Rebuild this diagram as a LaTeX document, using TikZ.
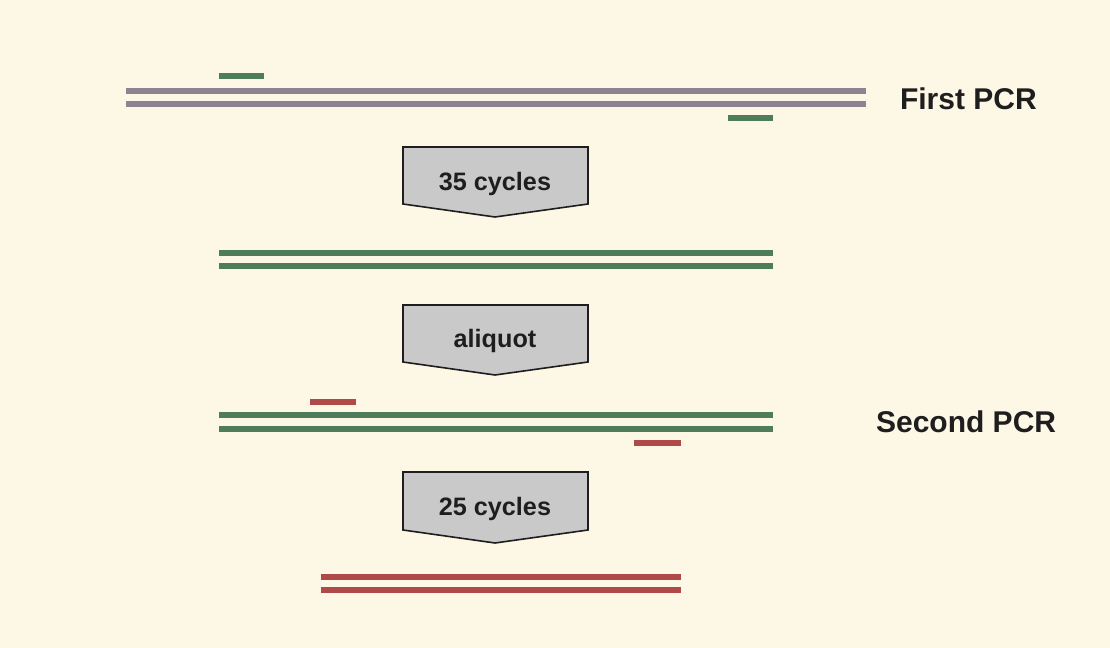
\documentclass[tikz,border=0pt]{standalone}
\usepackage{fontspec}
\setmainfont{Liberation Sans}
\definecolor{paper}{HTML}{FDF7E6}
\definecolor{template}{HTML}{8C8490}
\definecolor{outer}{HTML}{4F7D5B}
\definecolor{inner}{HTML}{B04A48}
\definecolor{boxfill}{HTML}{C9C9C9}
\definecolor{ink}{HTML}{1E1E1E}
\tikzset{
  strand/.style={line width=3pt},
  primer/.style={line width=3pt},
  stepbox/.style={draw=ink, line width=0.8pt, fill=boxfill},
  steplabel/.style={font=\fontsize{12.6}{14}\selectfont\bfseries, text=ink},
  pcrlabel/.style={font=\fontsize{15}{17}\selectfont\bfseries, text=ink, anchor=west}
}
\begin{document}
\begin{tikzpicture}[x=0.5pt, y=-0.5pt]
    \fill[paper] (0,0) rectangle (1110,648);
    \useasboundingbox (0,0) rectangle (1110,648);
    % first PCR: template and outer primers
    \draw[strand, template] (126,91) -- (866,91);
    \draw[strand, template] (126,104) -- (866,104);
    \draw[primer, outer] (219,76) -- (264,76);
    \draw[primer, outer] (728,118) -- (773,118);
    \node[pcrlabel] (first) at (893,99) {First PCR};
    % step arrows
    \draw[stepbox] (403,147) -- (588,147) -- (588,204) -- (495,217) -- (403,204) -- cycle;
    \node[steplabel] (cyclesA) at (495,184) {35 cycles};
    % outer product
    \draw[strand, outer] (219,253) -- (773,253);
    \draw[strand, outer] (219,266) -- (773,266);
    \draw[stepbox] (403,305) -- (588,305) -- (588,362) -- (495,375) -- (403,362) -- cycle;
    \node[steplabel] (aliquot) at (495,341) {aliquot};
    % second PCR: nested primers
    \draw[strand, outer] (219,415) -- (773,415);
    \draw[strand, outer] (219,429) -- (773,429);
    \draw[primer, inner] (310,402) -- (356,402);
    \draw[primer, inner] (634,443) -- (681,443);
    \node[pcrlabel] (second) at (869,422) {Second PCR};
    \draw[stepbox] (403,472) -- (588,472) -- (588,530) -- (495,543) -- (403,530) -- cycle;
    \node[steplabel] (cyclesB) at (495,509) {25 cycles};
    % nested product
    \draw[strand, inner] (321,577) -- (681,577);
    \draw[strand, inner] (321,590) -- (681,590);
\end{tikzpicture}
\end{document}
